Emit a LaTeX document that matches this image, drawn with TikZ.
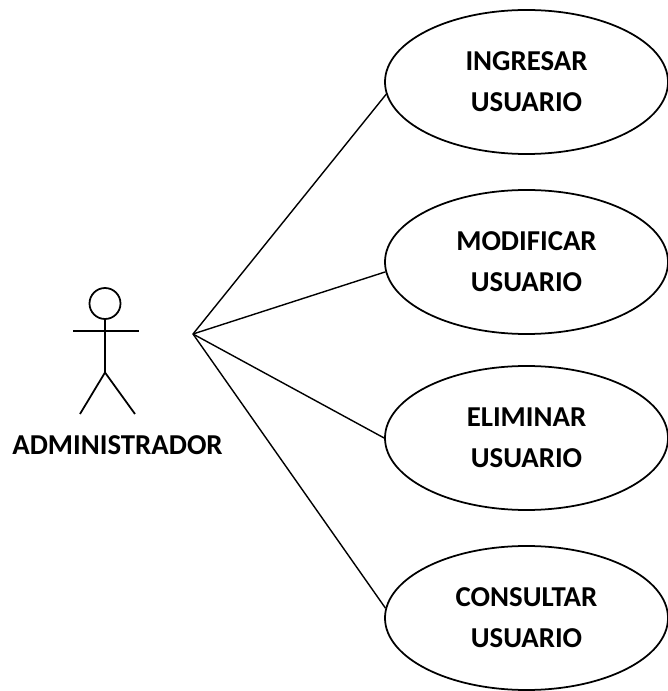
\documentclass[tikz,border=0pt]{standalone}
\usepackage{fontspec}
\setmainfont{Carlito}
\usetikzlibrary{shapes.geometric}
\tikzset{
    usecase/.style={draw, line width=1pt, ellipse, minimum width=5.66cm, minimum height=2.88cm, inner sep=0pt, align=center, font=\bfseries\fontsize{16.4}{23.3}\selectfont},
    actorline/.style={line width=1pt}
}
\begin{document}
\begin{tikzpicture}
\useasboundingbox (0,0) rectangle (13.36,13.82);
\coordinate (hub) at (3.86,7.14);
% casos de uso
\foreach \name/\y/\txt/\ang in {ingresar/12.18/INGRESAR/185.6, modificar/8.58/MODIFICAR/184, eliminar/5.06/ELIMINAR/180, consultar/1.46/CONSULTAR/176} {
    \node[usecase] (\name) at (10.53,\y) {\txt\\USUARIO};
    \draw[line width=0.8pt] (hub) -- (\name.\ang);
}
% actor
\node[draw, line width=1pt, circle, minimum size=0.62cm, inner sep=0pt] (head) at (2.1,7.75) {};
\coordinate (armL) at (1.46,7.2);
\coordinate (armR) at (2.78,7.2);
\coordinate (hip) at (2.1,6.37);
\coordinate (footL) at (1.6,5.54);
\coordinate (footR) at (2.7,5.54);
\draw[actorline] (head.south) -- (hip);
\draw[actorline] (armL) -- (armR);
\draw[actorline] (footL) -- (hip) -- (footR);
\node[font=\bfseries\fontsize{16.4}{20}\selectfont] (admin) at (2.35,4.92) {ADMINISTRADOR};
\end{tikzpicture}
\end{document}
